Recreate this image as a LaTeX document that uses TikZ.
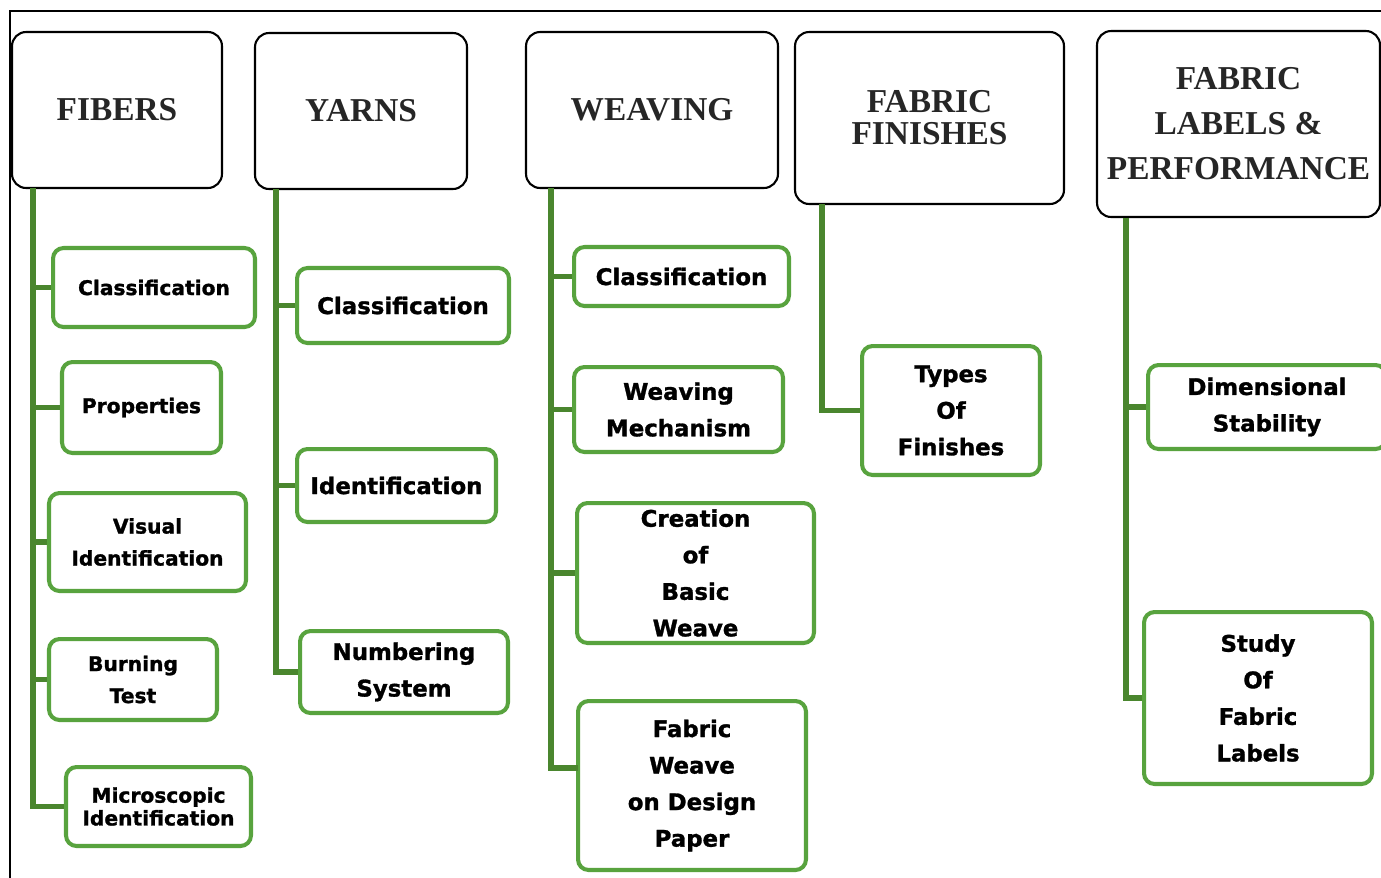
\documentclass[tikz,border=0pt]{standalone}
\usepackage{fontspec}
\setmainfont{Liberation Serif}
\newfontfamily\gfont{DejaVu Sans}[BoldFeatures={FakeBold=1.3}]
\definecolor{boxgreen}{RGB}{88,163,62}
\definecolor{trunkgreen}{RGB}{74,134,46}
\tikzset{
  hdr/.style={draw=black, line width=1.2pt, rounded corners=8pt, fill=white, align=center, inner sep=0pt,
     font=\bfseries\fontsize{19}{18.2}\selectfont, text=black!85},
  gbox/.style={draw=boxgreen, line width=2.3pt, rounded corners=6pt, fill=white, align=center, inner sep=0pt,
     font=\gfont\bfseries\fontsize{13}{20.8}\selectfont},
  gsmall/.style={font=\gfont\bfseries\fontsize{11.5}{18.2}\selectfont},
  trunk/.style={draw=trunkgreen, line width=3pt},
  frame/.style={draw=black, line width=1.2pt}
}
\begin{document}
\begin{tikzpicture}[x=0.02cm, y=-0.02cm]
\useasboundingbox (0,0) rectangle (1381,877);
\clip (0,0) rectangle (1381,877);
\fill[white] (0,0) rectangle (1381,877);
% frame
\coordinate (fr1) at (1385,11);
\coordinate (fr2) at (10,11);
\coordinate (fr3) at (10,880);
\draw[frame] (fr1) -- (fr2) -- (fr3);

% headers
\node[hdr, minimum width=4.2cm, minimum height=3.12cm] (FIB) at (117,110) {FIBERS};
\node[hdr, minimum width=4.24cm, minimum height=3.12cm] (YAR) at (361,111) {YARNS};
\node[hdr, minimum width=5.04cm, minimum height=3.12cm] (WEA) at (652,110) {WEAVING};
\node[hdr, minimum width=5.38cm, minimum height=3.44cm] (FIN) at (929.5,118) {FABRIC\\FINISHES};
\node[hdr, minimum width=5.66cm, minimum height=3.72cm, font=\bfseries\fontsize{19}{25.6}\selectfont] (LAB) at (1238.5,124) {FABRIC\\LABELS \&\\PERFORMANCE};

% trunk coordinates
\coordinate (fTop) at (33,188);
\coordinate (yTop) at (276,189);
\coordinate (wTop) at (551,188);
\coordinate (nTop) at (822,204);
\coordinate (lTop) at (1126,218);

% fibers
\node[gbox, gsmall, minimum width=4.04cm, minimum height=1.58cm] (F1) at (154,287.5) {Classification};
\node[gbox, gsmall, minimum width=3.18cm, minimum height=1.82cm] (F2) at (141.5,407.5) {Properties};
\node[gbox, gsmall, minimum width=3.94cm, minimum height=1.96cm] (F3) at (147.5,542) {Visual\\Identification};
\node[gbox, gsmall, minimum width=3.36cm, minimum height=1.62cm] (F4) at (133,679.5) {Burning\\Test};
\node[gbox, minimum width=3.7cm, minimum height=1.58cm, font=\gfont\bfseries\fontsize{11.5}{13}\selectfont] (F5) at (158.5,806.5) {Microscopic\\Identification};

% yarns
\node[gbox, minimum width=4.24cm, minimum height=1.5cm] (Y1) at (403,305.5) {Classification};
\node[gbox, minimum width=3.98cm, minimum height=1.46cm] (Y2) at (396.5,485.5) {Identification};
\node[gbox, minimum width=4.16cm, minimum height=1.64cm] (Y3) at (404,672) {Numbering\\System};

% weaving
\node[gbox, minimum width=4.3cm, minimum height=1.18cm] (W1) at (681.5,276.5) {Classification};
\node[gbox, minimum width=4.18cm, minimum height=1.7cm] (W2) at (678.5,409.5) {Weaving\\Mechanism};
\node[gbox, minimum width=4.74cm, minimum height=2.8cm] (W3) at (695.5,573) {Creation\\of\\Basic\\Weave};
\node[gbox, minimum width=4.56cm, minimum height=3.38cm] (W4) at (692,785.5) {Fabric\\Weave\\on Design\\Paper};
\coordinate (w4b) at (578,768);

% finishes
\node[gbox, minimum width=3.56cm, minimum height=2.58cm] (N1) at (951,410.5) {Types\\Of\\Finishes};

% labels
\node[gbox, minimum width=4.76cm, minimum height=1.68cm] (L1) at (1267,407) {Dimensional\\Stability};
\node[gbox, minimum width=4.56cm, minimum height=3.44cm] (L2) at (1258,698) {Study\\Of\\Fabric\\Labels};

% trunks and branches
\draw[trunk] (fTop) |- (F5.west);
\foreach \b in {F1,F2,F3,F4} \draw[trunk] (fTop |- \b.west) -- (\b.west);
\draw[trunk] (yTop) |- (Y3.west);
\foreach \b in {Y1,Y2} \draw[trunk] (yTop |- \b.west) -- (\b.west);
\draw[trunk] (wTop) |- (w4b);
\foreach \b in {W1,W2,W3} \draw[trunk] (wTop |- \b.west) -- (\b.west);
\draw[trunk] (nTop) |- (N1.west);
\draw[trunk] (lTop) |- (L2.west);
\draw[trunk] (lTop |- L1.west) -- (L1.west);
\end{tikzpicture}
\end{document}
